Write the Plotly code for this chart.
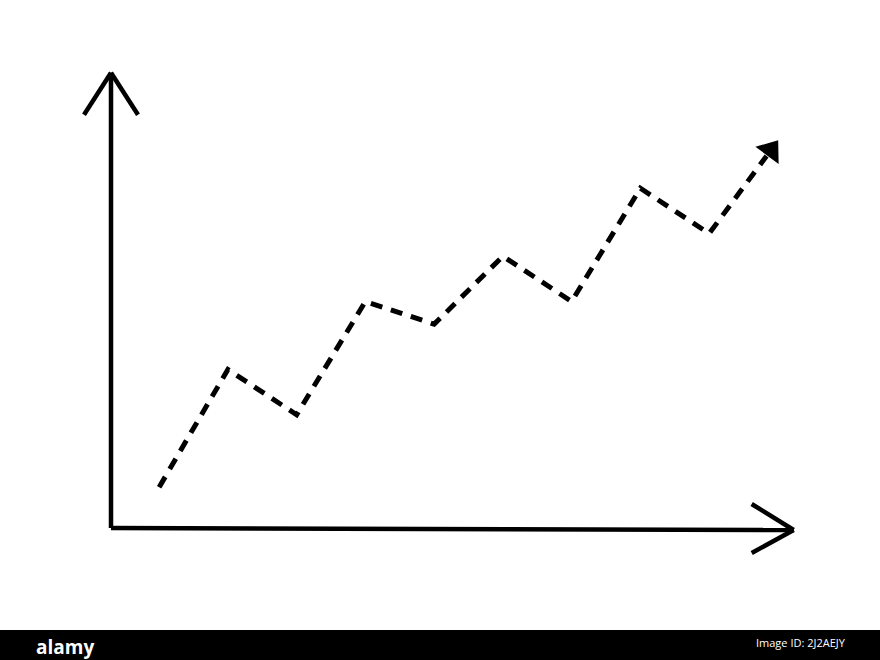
import math
import plotly.graph_objects as go

# Data (chart units: origin at the axes corner)
x_vals = [0.7, 1.7, 2.7, 3.7, 4.7, 5.7, 6.7, 7.7, 8.7, 9.7]
y_vals = [0.9, 3.5, 2.5, 5.0, 4.5, 6.0, 5.0, 7.5, 6.5, 8.55]

# axis extents in chart units
x_axis_len = 9.93
y_axis_len = 10.05

# pixel scale used to size the hand-drawn arrow heads
px_x = 68.75
px_y = 45.3

W, H = 880, 660
x_range = [-111 / px_x, (W - 111) / px_x]
y_range = [(528 - H) / px_y, 528 / px_y]

fig = go.Figure()

# direction of last segment (in pixels) for the arrow head
dxp = (x_vals[-1] - x_vals[-2]) * px_x
dyp = (y_vals[-1] - y_vals[-2]) * px_y
seg = math.hypot(dxp, dyp)
ang = math.degrees(math.atan2(dxp, dyp))
back = 19.0  # px: stop the dashed line at the arrow base
end_x = x_vals[-1] - back * dxp / seg / px_x
end_y = y_vals[-1] - back * dyp / seg / px_y

fig.add_trace(go.Scatter(
    x=x_vals[:-1] + [end_x], y=y_vals[:-1] + [end_y], mode="lines",
    line=dict(color="black", width=5, dash="12px,9px"),
    hoverinfo="skip", showlegend=False,
))
fig.add_trace(go.Scatter(
    x=[x_vals[-1]], y=[y_vals[-1]], mode="markers",
    marker=dict(size=25, symbol="triangle-up", angle=ang, standoff=12,
                color="black", opacity=1, line=dict(width=0)),
    hoverinfo="skip", showlegend=False,
))

line_style = dict(color="black", width=4.5)
shapes = [
    # y axis
    dict(type="line", xref="x", yref="y", x0=0, y0=0, x1=0, y1=y_axis_len, line=line_style),
    dict(type="line", xref="x", yref="y", x0=0, y0=y_axis_len, x1=-27 / px_x, y1=y_axis_len - 42 / px_y, line=line_style),
    dict(type="line", xref="x", yref="y", x0=0, y0=y_axis_len, x1=27 / px_x, y1=y_axis_len - 42 / px_y, line=line_style),
    # x axis
    dict(type="line", xref="x", yref="y", x0=0, y0=0, x1=x_axis_len, y1=-2 / px_y, line=line_style),
    dict(type="line", xref="x", yref="y", x0=x_axis_len, y0=-2 / px_y, x1=x_axis_len - 42 / px_x, y1=24 / px_y, line=line_style),
    dict(type="line", xref="x", yref="y", x0=x_axis_len, y0=-2 / px_y, x1=x_axis_len - 42 / px_x, y1=-25 / px_y, line=line_style),
    # watermark bar
    dict(type="rect", xref="paper", yref="paper", x0=0, x1=1, y0=0, y1=30 / H,
         fillcolor="black", line=dict(width=0), layer="above"),
]

annotations = [
    dict(text="<b>alamy</b>", xref="paper", yref="paper", x=34 / W, y=0, xanchor="left", yanchor="bottom",
         showarrow=False, font=dict(color="white", size=19, family="Open Sans"), yshift=-2),
    dict(text="Image ID: 2J2AEJY", xref="paper", yref="paper", x=848 / W, y=8 / H, xanchor="right", yanchor="bottom",
         showarrow=False, font=dict(color="white", size=11, family="Open Sans")),
]

fig.update_layout(
    width=W, height=H,
    margin=dict(l=0, r=0, t=0, b=0),
    paper_bgcolor="white", plot_bgcolor="white",
    xaxis=dict(range=x_range, visible=False, fixedrange=True),
    yaxis=dict(range=y_range, visible=False, fixedrange=True),
    shapes=shapes, annotations=annotations,
    showlegend=False,
)

fig.write_html("out.html", config={"displayModeBar": False},
               post_script="document.body.style.margin='0';document.body.style.overflow='hidden';")
